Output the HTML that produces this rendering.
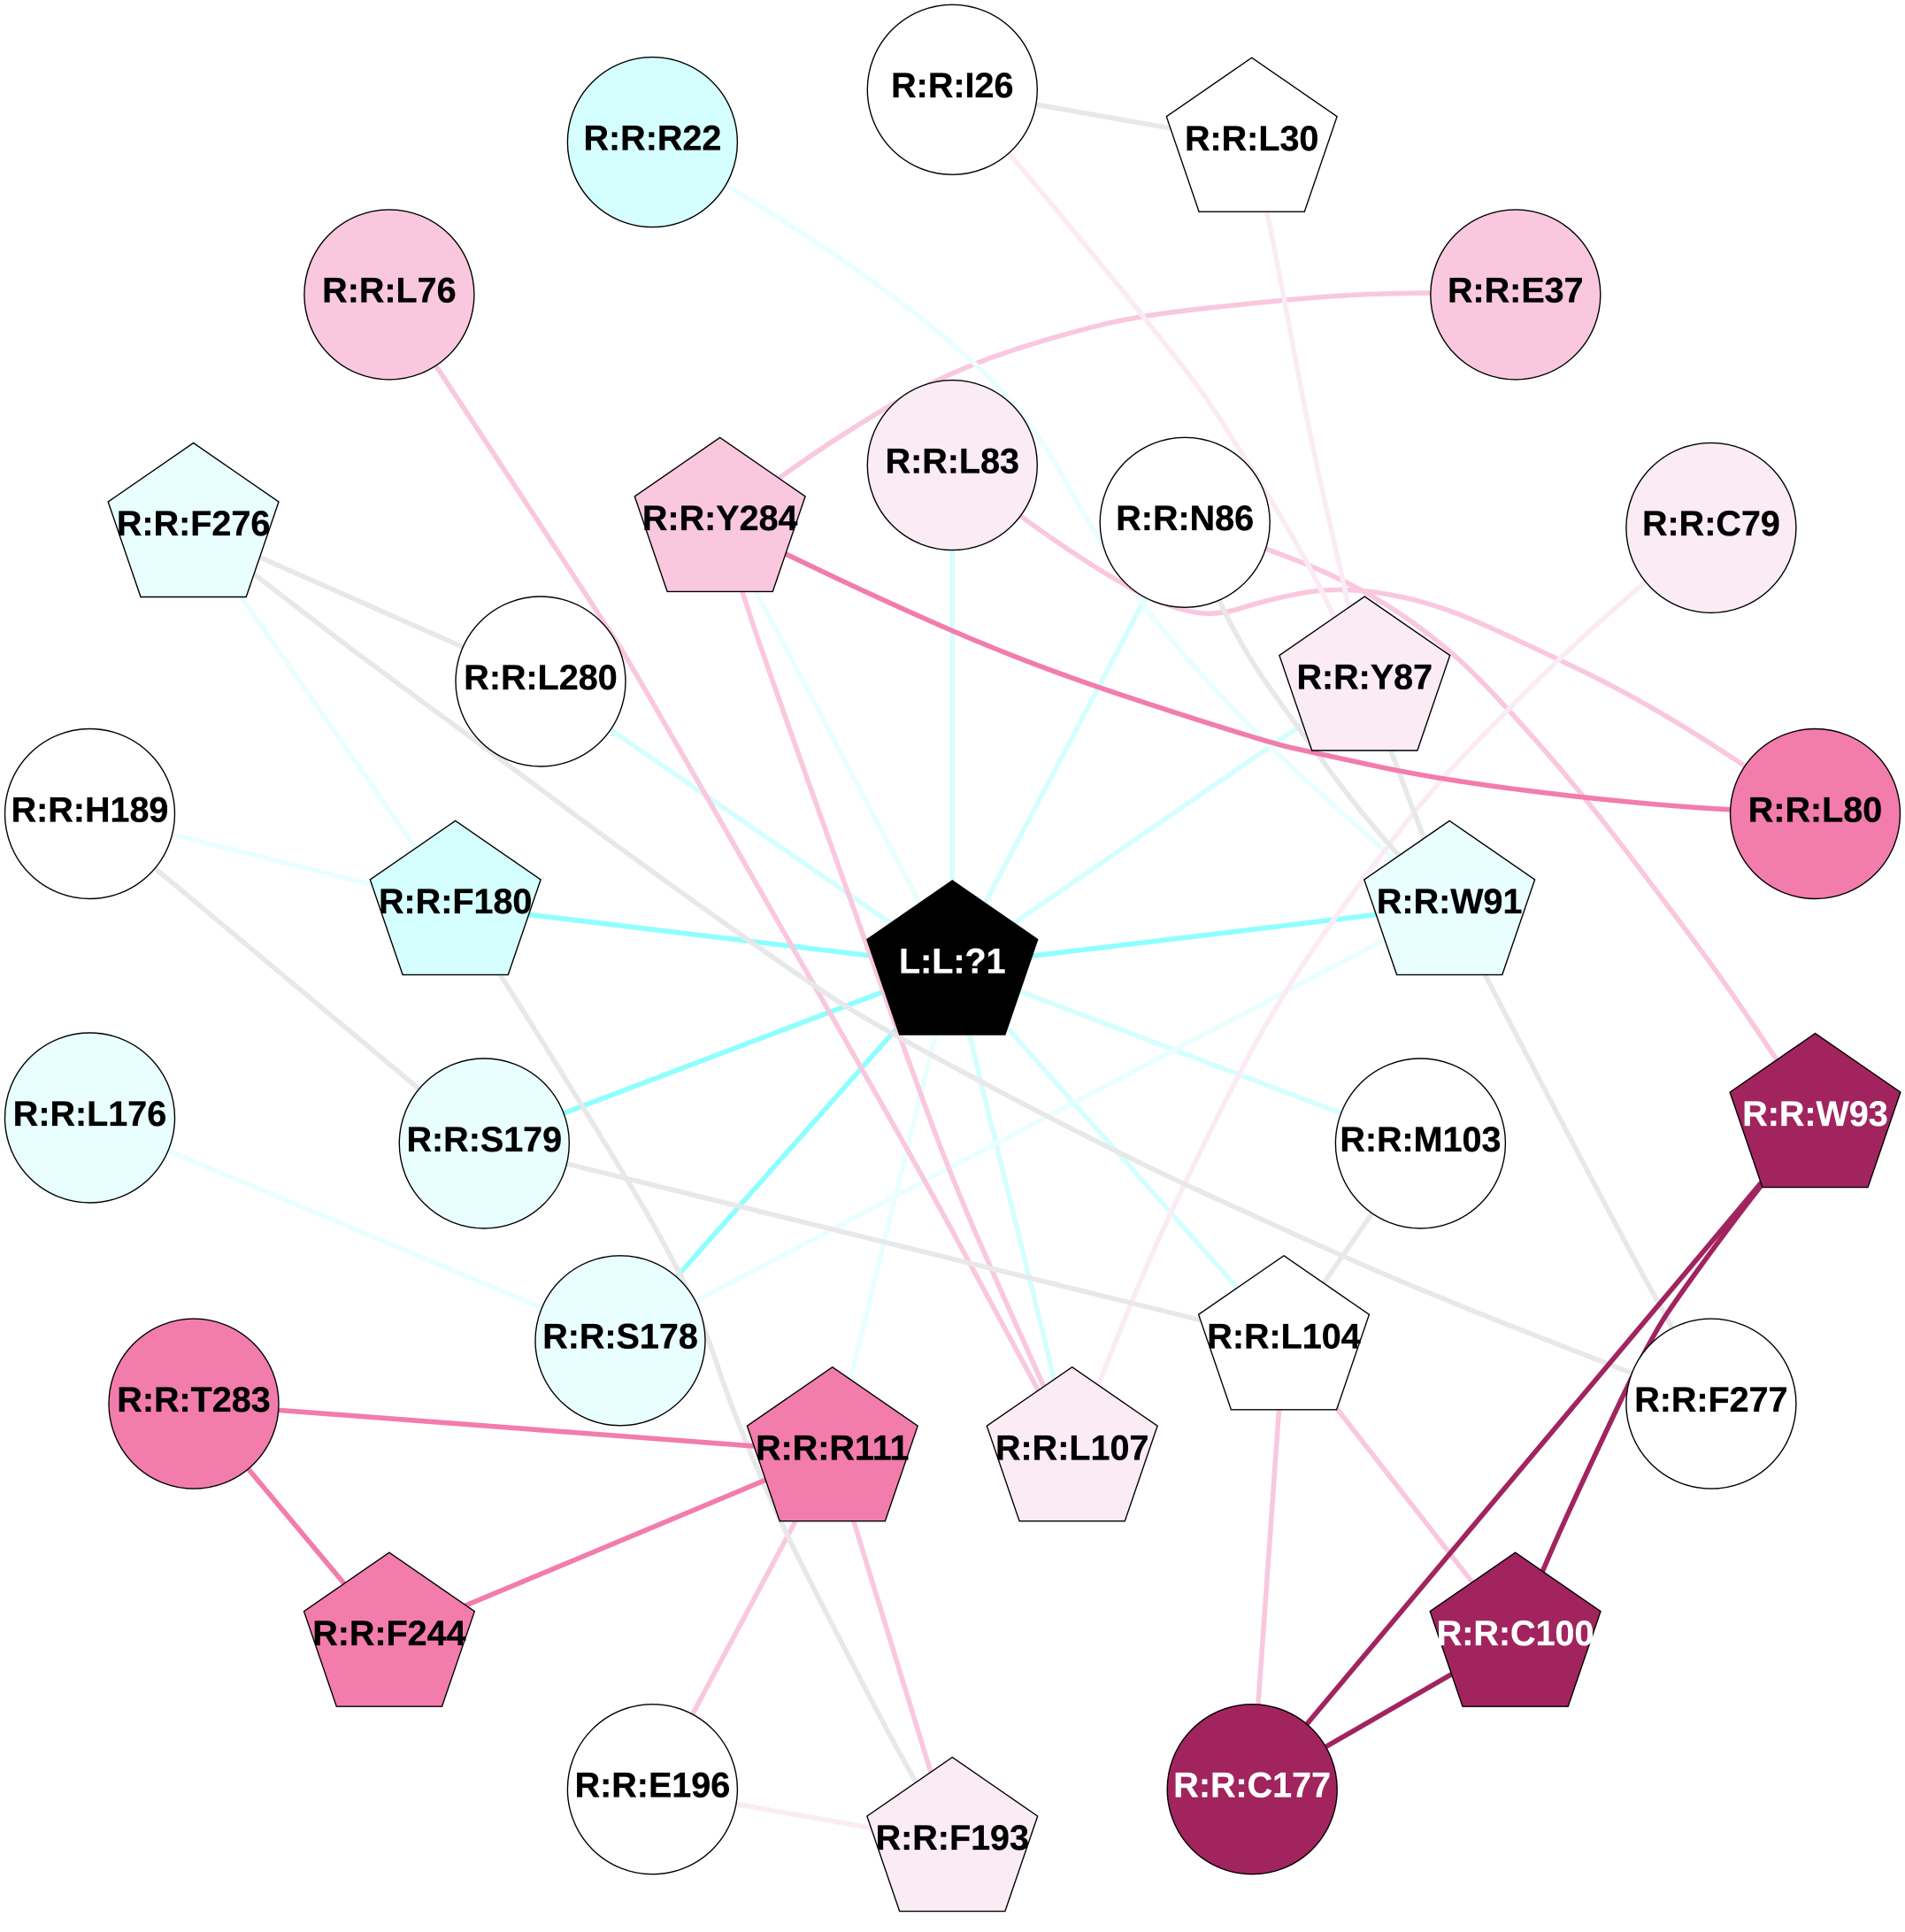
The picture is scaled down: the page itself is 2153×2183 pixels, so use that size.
<!DOCTYPE html>
<html>
<head>
<meta charset="utf-8">
<style>
html,body{margin:0;padding:0;background:#fff}
svg{display:block}
.e{fill:none;stroke-width:5.6;stroke-linejoin:round;stroke-linecap:butt}
.g{stroke:#e8e8e8}.s{stroke:#8effff}.m{stroke:#d5ffff}.a{stroke:#e9ffff}
.pp{stroke:#fbebf4}.p{stroke:#f9c8de}.h{stroke:#f27cac}.d{stroke:#a1245f}
.n{stroke:#000;stroke-width:1.39}
text{font-family:"Liberation Sans",Arial,sans-serif;font-weight:bold;font-size:39.5px;text-anchor:middle;fill:#000;stroke:#000;stroke-width:.35}
text.w{fill:#fff;stroke:#fff}
</style>
</head>
<body>
<svg width="2153" height="2183" viewBox="0 0 2153 2183" xmlns="http://www.w3.org/2000/svg">
<rect width="2153" height="2183" fill="#fff"/>
<!-- edges -->
<g class="edges">
<polyline class="e m" points="1076.3,525.6 1076.3,1091"/>
<polyline class="e m" points="1339.2,590.3 1076.3,1091"/>
<polyline class="e m" points="1542.3,770 1076.3,1091"/>
<polyline class="e m" points="611,770 1076.3,1091"/>
<polyline class="e m" points="1605.4,1292 1076.3,1091"/>
<polyline class="e m" points="1451,1514.8 1076.3,1091"/>
<polyline class="e m" points="1211.7,1640.7 1076.3,1091"/>
<polyline class="e a" points="813.7,590.4 1076.3,1091"/>
<polyline class="e a" points="940.8,1640.7 1076.3,1091"/>
<polyline class="e s" points="514.7,1023.4 1076.3,1091"/>
<polyline class="e s" points="1638.2,1023.4 1076.3,1091"/>
<polyline class="e s" points="547.3,1292 1076.3,1091"/>
<polyline class="e s" points="701,1514.8 1076.3,1091"/>
<polyline class="e a" points="218.6,596.5 514.7,1023.4"/>
<polyline class="e a" points="101.5,919.5 514.7,1023.4"/>
<polyline class="e a" points="101.5,1263 701,1514.8"/>
<polyline class="e a" points="701,1514.8 1638.2,1023.4"/>
<path class="e p" d="M813.7,590.4 Q880.7,537.7 947.3,494.65 Q1013.9,451.6 1057.45,430.65 Q1101,409.7 1150.5,393.85 Q1200,378 1244.65,367.05 Q1289.3,356.1 1364.65,348.05 Q1440,340 1482.5,336.5 Q1525,333 1570.5,331.75 Q1616,330.5 1712.8,330.5"/>
<path class="e a" d="M737.4,160.6 Q823.3,209.5 886.45,250.25 Q949.6,291 995.5,324.75 Q1041.4,358.5 1071.2,384.1 Q1101,409.7 1117,425.85 Q1133,442 1156,470 Q1179,498 1202,540 Q1225,582 1248,619 Q1271,656 1299.5,693 Q1328,730 1379,785 Q1430,840 1500.35,903.7 Q1570.7,967.4 1638.2,1023.4"/>
<path class="e p" d="M1339.2,590.3 Q1433,619 1488,642.5 Q1543,666 1589,698 Q1635,730 1669.5,765 Q1704,800 1747.5,850 Q1791,900 1841.5,966.3 Q1892,1032.6 1919.5,1069.8 Q1947,1107 1977,1151.25 Q2007,1195.5 2051.5,1263.6"/>
<path class="e p" d="M1076.3,525.6 Q1153.9,584.3 1189.45,608.65 Q1225,633 1248,647 Q1271,661 1294,672.7 Q1317,684.4 1344.5,690.7 Q1372,697 1402.5,687.2 Q1433,677.4 1467.5,670.85 Q1502,664.3 1536.5,667.35 Q1571,670.4 1605.5,679.7 Q1640,689 1685,709.5 Q1730,730 1788,758 Q1846,786 1908,824.35 Q1970,862.7 2051.5,919.5"/>
<path class="e pp" d="M1076.3,101.3 Q1140,172 1182.5,223.35 Q1225,274.7 1257.15,314.25 Q1289.3,353.8 1326,400.4 Q1362.8,447 1385.75,484.2 Q1408.7,521.4 1420.85,540 Q1433,558.7 1456,598.25 Q1479,637.8 1492.75,665.75 Q1506.5,693.7 1542.3,770"/>
<path class="e pp" d="M1414.7,161.2 Q1433,242 1444.5,302.5 Q1456,363 1469.75,435.2 Q1483.5,507.4 1501.75,586.2 Q1520,665 1542.3,770"/>
<path class="e pp" d="M1933.9,596.4 Q1860,656.4 1818.5,693.2 Q1777,730 1740.45,766 Q1703.9,802 1660.3,847.5 Q1616.7,893 1577.65,944.2 Q1538.6,995.4 1508.8,1037.2 Q1479,1079 1457.5,1113.5 Q1436,1148 1417.75,1181 Q1399.5,1214 1360.5,1293.25 Q1321.5,1372.5 1303.25,1414.25 Q1285,1456 1263,1510.35 Q1241,1564.7 1211.7,1640.7"/>
<polyline class="e pp" points="737.4,2021.7 1076.3,2081.6"/>
<path class="e p" d="M439.9,332.9 Q493.6,414.3 591.15,563.15 Q688.7,712 704.35,737.3 Q720,762.6 821,939.3 Q922,1116 981.5,1221 Q1041,1326 1075.5,1389.5 Q1110,1453 1141.15,1511.2 Q1172.3,1569.4 1211.7,1640.7"/>
<path class="e p" d="M813.7,590.4 Q839.4,670.4 849.2,700.2 Q859,730 918,895.75 Q977,1061.5 996.5,1115.25 Q1016,1169 1044.75,1247.5 Q1073.5,1326 1101.75,1391 Q1130,1456 1154.5,1510.35 Q1179,1564.7 1211.7,1640.7"/>
<polyline class="e p" points="1451,1514.8 1415.2,2021.7"/>
<polyline class="e p" points="1451,1514.8 1712.6,1850.2"/>
<polyline class="e p" points="940.8,1640.7 1076.3,2081.6"/>
<polyline class="e p" points="940.8,1640.7 737.4,2021.7"/>
<polyline class="e g" points="1076.3,101.3 1414.7,161.2"/>
<polyline class="e g" points="218.6,596.5 611,770"/>
<path class="e g" d="M218.6,596.5 Q288.3,649.4 340.15,689.7 Q392,730 480.65,795.2 Q569.3,860.4 644.65,916.7 Q720,973 821,1044.7 Q922,1116.4 967.95,1144.35 Q1013.9,1172.3 1137.85,1237.45 Q1261.8,1302.6 1349.4,1342.8 Q1437,1383 1518.5,1419.5 Q1600,1456 1720.8,1503.4 Q1841.6,1550.8 1933.9,1586"/>
<polyline class="e g" points="101.5,919.5 547.3,1292"/>
<path class="e g" d="M514.7,1023.4 Q567,1102.4 643.5,1226.2 Q720,1350 745.25,1396 Q770.5,1442 784.25,1473 Q798,1504 811.8,1546 Q825.6,1588 853.15,1653.2 Q880.7,1718.4 915.15,1785.9 Q949.6,1853.4 990.8,1932.55 Q1032,2011.7 1076.3,2081.6"/>
<polyline class="e g" points="547.3,1292 1451,1514.8"/>
<path class="e g" d="M1339.2,590.3 Q1376.6,677.4 1390.3,703.7 Q1404,730 1420,755 Q1436,780 1503.35,871.4 Q1570.7,962.8 1638.2,1023.4"/>
<polyline class="e g" points="1542.3,770 1638.2,1023.4"/>
<path class="e g" d="M1638.2,1023.4 Q1678.6,1102.4 1739.45,1218.8 Q1800.3,1335.2 1832.65,1395.6 Q1865,1456 1877.5,1477.8 Q1890,1499.6 1933.9,1586"/>
<polyline class="e g" points="1605.4,1292 1451,1514.8"/>
<path class="e h" d="M813.7,590.4 Q887.6,626 941.55,651.5 Q995.5,677 1055.25,703.5 Q1115,730 1176.9,753.3 Q1238.8,776.6 1337.9,808.3 Q1437,840 1460.25,845 Q1483.5,850.1 1550.1,864.55 Q1616.7,879 1703.85,890.5 Q1791,902 1873.25,909 Q1955.5,916 2051.5,919"/>
<polyline class="e h" points="219,1586.1 940.8,1640.7"/>
<polyline class="e h" points="219,1586.1 439.9,1850.2"/>
<polyline class="e h" points="439.9,1850.2 940.8,1640.7"/>
<polyline class="e d" points="2051.5,1263.6 1415.2,2021.7"/>
<path class="e d" d="M2051.5,1263.6 Q1990.8,1337.5 1946.9,1396.75 Q1903,1456 1883.8,1484.75 Q1864.6,1513.5 1832.45,1581 Q1800.3,1648.5 1771.65,1711.25 Q1743,1774 1712.6,1850.2"/>
<polyline class="e d" points="1712.6,1850.2 1415.2,2021.7"/>
</g>
<!-- circle nodes -->
<g class="n">
<circle cx="737.4" cy="160.6" r="96" fill="#d5ffff"/>
<circle cx="1076.3" cy="101.3" r="96" fill="#ffffff"/>
<circle cx="439.9" cy="332.9" r="96" fill="#f9c8de"/>
<circle cx="1712.8" cy="332.9" r="96" fill="#f9c8de"/>
<circle cx="1076.3" cy="525.6" r="96" fill="#fbebf4"/>
<circle cx="1339.2" cy="590.3" r="96" fill="#ffffff"/>
<circle cx="1933.9" cy="596.4" r="96" fill="#fbebf4"/>
<circle cx="611" cy="770" r="96" fill="#ffffff"/>
<circle cx="101.5" cy="919.5" r="96" fill="#ffffff"/>
<circle cx="2051.5" cy="919.5" r="96" fill="#f27cac"/>
<circle cx="101.5" cy="1263" r="96" fill="#e9ffff"/>
<circle cx="547.3" cy="1292" r="96" fill="#e9ffff"/>
<circle cx="1605.4" cy="1292" r="96" fill="#ffffff"/>
<circle cx="701" cy="1514.8" r="96" fill="#e9ffff"/>
<circle cx="219" cy="1586.1" r="96" fill="#f27cac"/>
<circle cx="1933.9" cy="1586.1" r="96" fill="#ffffff"/>
<circle cx="737.4" cy="2021.7" r="96" fill="#ffffff"/>
<circle cx="1415.2" cy="2021.7" r="96" fill="#a1245f"/>
<!-- pentagon nodes -->
<polygon transform="translate(1414.7,161.2)" fill="#ffffff" points="0,-96 96.4,-29.5 59.6,78 -59.6,78 -96.4,-29.5"/>
<polygon transform="translate(218.6,596.5)" fill="#e9ffff" points="0,-96 96.4,-29.5 59.6,78 -59.6,78 -96.4,-29.5"/>
<polygon transform="translate(813.7,590.4)" fill="#f9c8de" points="0,-96 96.4,-29.5 59.6,78 -59.6,78 -96.4,-29.5"/>
<polygon transform="translate(1542.3,770)" fill="#fbebf4" points="0,-96 96.4,-29.5 59.6,78 -59.6,78 -96.4,-29.5"/>
<polygon transform="translate(514.7,1023.4)" fill="#d5ffff" points="0,-96 96.4,-29.5 59.6,78 -59.6,78 -96.4,-29.5"/>
<polygon transform="translate(1638.2,1023.4)" fill="#e9ffff" points="0,-96 96.4,-29.5 59.6,78 -59.6,78 -96.4,-29.5"/>
<polygon transform="translate(1076.3,1091)" fill="#000000" points="0,-96 96.4,-29.5 59.6,78 -59.6,78 -96.4,-29.5"/>
<polygon transform="translate(2051.5,1263.6)" fill="#a1245f" points="0,-96 96.4,-29.5 59.6,78 -59.6,78 -96.4,-29.5"/>
<polygon transform="translate(1451,1514.8)" fill="#ffffff" points="0,-96 96.4,-29.5 59.6,78 -59.6,78 -96.4,-29.5"/>
<polygon transform="translate(940.8,1640.7)" fill="#f27cac" points="0,-96 96.4,-29.5 59.6,78 -59.6,78 -96.4,-29.5"/>
<polygon transform="translate(1211.7,1640.7)" fill="#fbebf4" points="0,-96 96.4,-29.5 59.6,78 -59.6,78 -96.4,-29.5"/>
<polygon transform="translate(439.9,1850.2)" fill="#f27cac" points="0,-96 96.4,-29.5 59.6,78 -59.6,78 -96.4,-29.5"/>
<polygon transform="translate(1712.6,1850.2)" fill="#a1245f" points="0,-96 96.4,-29.5 59.6,78 -59.6,78 -96.4,-29.5"/>
<polygon transform="translate(1076.3,2081.6)" fill="#fbebf4" points="0,-96 96.4,-29.5 59.6,78 -59.6,78 -96.4,-29.5"/>
</g>
<!-- labels -->
<g transform="translate(0,-1.2)">
<text x="737.4" y="170.6">R:R:R22</text>
<text x="1076.3" y="111.3">R:R:I26</text>
<text x="1414.7" y="171">R:R:L30</text>
<text x="439.9" y="342.9">R:R:L76</text>
<text x="1712.8" y="342.9">R:R:E37</text>
<text x="218.6" y="606.3">R:R:F276</text>
<text x="813.7" y="600.2">R:R:Y284</text>
<text x="1076.3" y="535.6">R:R:L83</text>
<text x="1339.2" y="600.3">R:R:N86</text>
<text x="1933.9" y="606.3">R:R:C79</text>
<text x="611" y="780">R:R:L280</text>
<text x="1542.3" y="779.8">R:R:Y87</text>
<text x="101.5" y="929.5">R:R:H189</text>
<text x="2051.5" y="929.5">R:R:L80</text>
<text x="514.7" y="1033.2">R:R:F180</text>
<text x="1638.2" y="1033.2">R:R:W91</text>
<text class="w" x="1076.3" y="1100.5">L:L:?1</text>
<text x="101.5" y="1273">R:R:L176</text>
<text x="547.3" y="1302">R:R:S179</text>
<text x="1605.4" y="1302">R:R:M103</text>
<text class="w" x="2051.5" y="1273.4">R:R:W93</text>
<text x="701" y="1524.8">R:R:S178</text>
<text x="1451" y="1524.6">R:R:L104</text>
<text x="219" y="1596.1">R:R:T283</text>
<text x="1933.9" y="1596.1">R:R:F277</text>
<text x="940.8" y="1650.5">R:R:R111</text>
<text x="1211.7" y="1650.5">R:R:L107</text>
<text x="439.9" y="1860">R:R:F244</text>
<text class="w" x="1712.6" y="1860">R:R:C100</text>
<text x="737.4" y="2031.7">R:R:E196</text>
<text class="w" x="1415.2" y="2031.7">R:R:C177</text>
<text x="1076.3" y="2091.4">R:R:F193</text>
</g>
</svg>
</body>
</html>
